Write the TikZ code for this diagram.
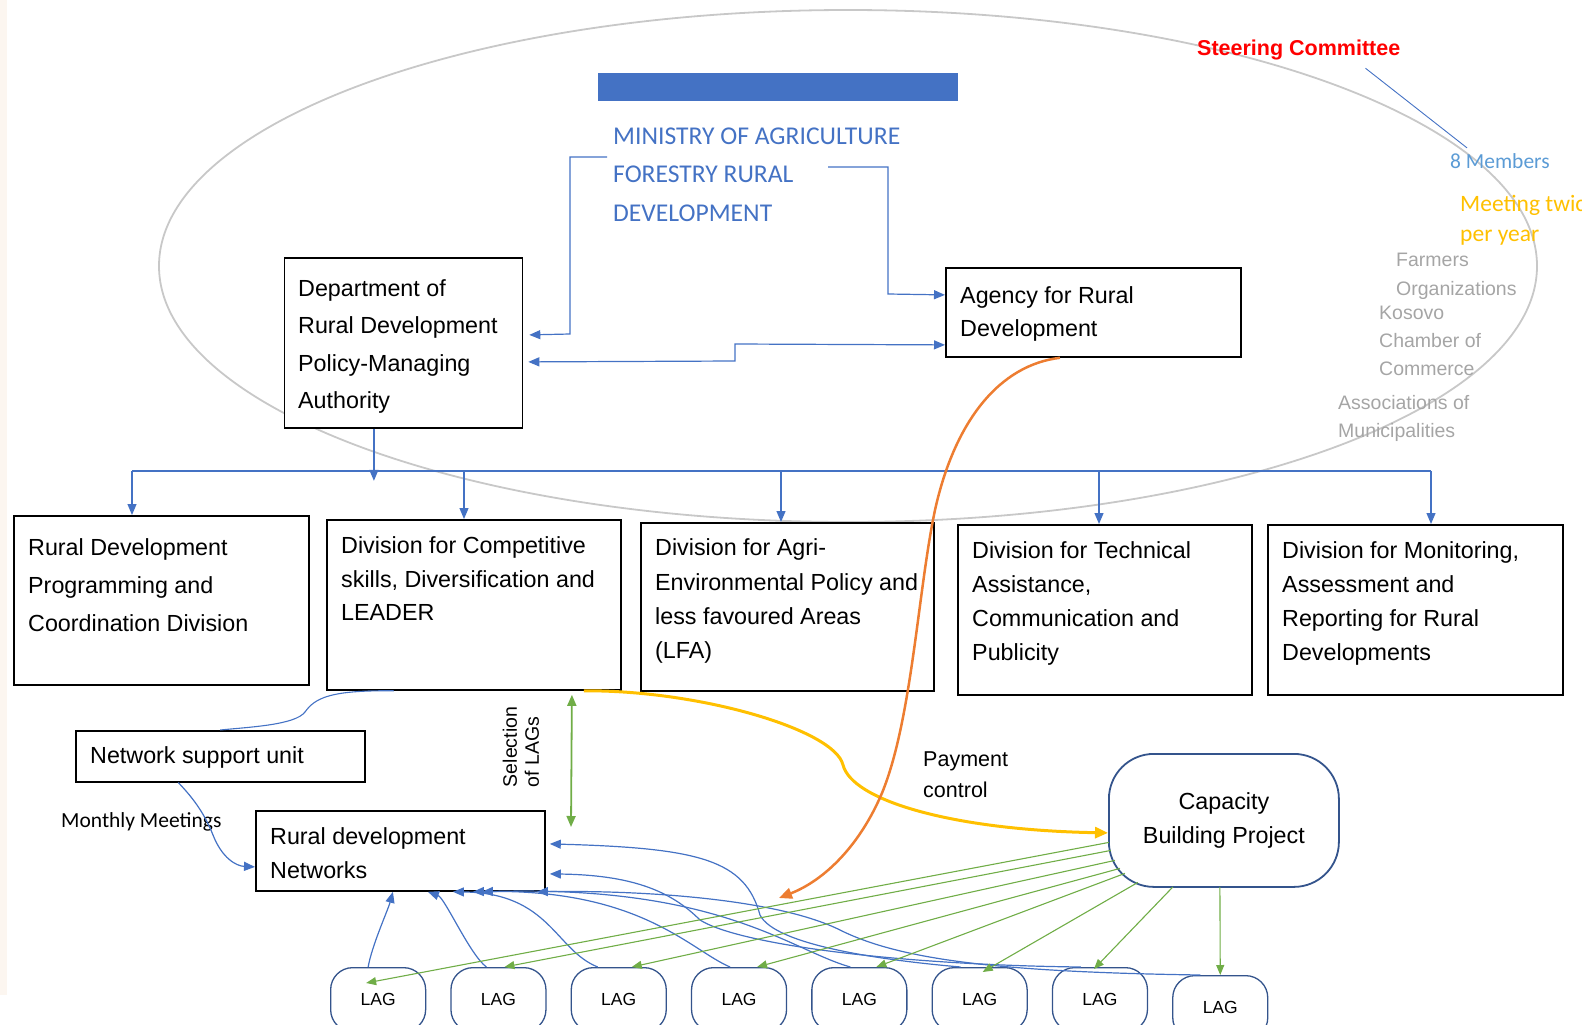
\documentclass[tikz,border=0pt]{standalone}
\usepackage{fontspec}
\setmainfont{Liberation Sans}
\newfontfamily\calib{Carlito}
\usetikzlibrary{arrows.meta}
\definecolor{cblue}{RGB}{68,114,196}
\definecolor{lblue}{RGB}{91,155,213}
\definecolor{cgreen}{RGB}{112,173,71}
\definecolor{corange}{RGB}{237,125,49}
\definecolor{cyellow}{RGB}{255,192,0}
\definecolor{cgrey}{RGB}{200,200,200}
\definecolor{tgrey}{RGB}{165,165,165}
\definecolor{dblue}{RGB}{52,84,140}
\definecolor{cream}{RGB}{252,246,240}
\definecolor{sred}{RGB}{255,0,0}
\tikzset{
  boxst/.style={draw=black, line width=1.8pt, fill=white, anchor=north west, inner sep=0pt},
  txt/.style={inner sep=0pt, anchor=north west, align=left, text=black, font=\fontsize{23.3}{#1}\selectfont},
  lagst/.style={draw=dblue, line width=1.3pt, rounded corners=22pt, minimum width=95pt, minimum height=64pt, fill=white, anchor=north west, inner sep=0pt, font=\fontsize{17.5}{20}\selectfont},
  bline/.style={draw=cblue, line width=1.2pt},
  barr/.style={draw=cblue, line width=1.2pt, -{Triangle[length=11pt,width=9pt]}},
  garr/.style={draw=cgreen, line width=1.1pt, -{Triangle[length=10pt,width=8pt]}},
  greytxt/.style={inner sep=0pt, anchor=north west, align=left, text=tgrey, font=\fontsize{19.5}{#1}\selectfont}
}
\begin{document}
\begin{tikzpicture}[x=1pt,y=-1pt]
\useasboundingbox (0,0) rectangle (1582,1025);
\clip (0,0) rectangle (1582,1025);
\fill[cream] (0,0) rectangle (7,995);

% steering committee ellipse
\draw[cgrey, line width=1.8pt] (848,266) ellipse [x radius=689, y radius=256];

% ministry
\node[fill=cblue, minimum width=360pt, minimum height=28pt, anchor=north west, inner sep=0pt] (bar) at (598,73) {};
\node[inner sep=0pt, anchor=north west, align=left, text=cblue, font=\calib\fontsize{25.6}{38.5}\selectfont] (min) at (613,127.5) {MINISTRY OF AGRICULTURE\\FORESTRY RURAL\\DEVELOPMENT};

% steering committee texts
\node[inner sep=0pt, anchor=base west, text=sred, font=\bfseries\fontsize{21.5}{24}\selectfont] (sc) at (1197,56) {Steering Committee};
\node[inner sep=0pt, anchor=base west, text=lblue, font=\calib\fontsize{21.5}{24}\selectfont] (mem) at (1450,168) {8 Members};
\node[inner sep=0pt, anchor=north west, align=left, text=cyellow, font=\calib\fontsize{23.5}{30}\selectfont] (meet) at (1460,195) {Meeting twice\\per year};
\node[greytxt=29] (farm) at (1396,253) {Farmers\\Organizations};
\node[greytxt=28] (kos) at (1379,306) {Kosovo\\Chamber of\\Commerce};
\node[greytxt=28] (assoc) at (1338,395) {Associations of\\Municipalities};
\draw[draw=cblue, line width=0.9pt] ([xshift=-35pt,yshift=-7.5pt]sc.south east) -- ([xshift=17pt,yshift=5pt]mem.north west);

% department and agency
\node[boxst, minimum width=238pt, minimum height=170pt] (dept) at (283.5,257) {};
\node[txt=37.5] (deptT) at (298,279.3) {Department of\\Rural Development\\Policy-Managing\\Authority};
\node[boxst, minimum width=295pt, minimum height=89pt] (agency) at (945,267) {};
\node[txt=33] (agencyT) at (960,286.3) {Agency for Rural\\Development};

% ministry connectors
\draw[barr] ([shift={(-6,-17.6)}]min.west) -- (570,157) -- (570,334) -- ([xshift=6pt,yshift=8pt]dept.east);
\draw[barr] ([shift={(215,-7.6)}]min.west) -- (888,167) -- (888,294) -- ([yshift=17.5pt]agency.west);
\draw[draw=cblue, line width=1.2pt, {Triangle[length=11pt,width=9pt]}-{Triangle[length=11pt,width=9pt]}] ([xshift=5pt,yshift=-19pt]dept.east) -- (735,361) -- (735,344) -- ([yshift=-32.5pt]agency.west);

% division boxes
\node[boxst, minimum width=295pt, minimum height=169pt] (boxA) at (13,515) {};
\node[txt=38] (boxAT) at (28,538.8) {Rural Development\\Programming and\\Coordination Division};
\node[boxst, minimum width=294pt, minimum height=170pt] (boxB) at (326,519) {};
\node[txt=33.5] (boxBT) at (341,536.8) {Division for Competitive\\skills, Diversification and\\LEADER};
\node[boxst, minimum width=293pt, minimum height=168pt] (boxC) at (640,522) {};
\node[txt=34.3] (boxCT) at (655,538.8) {Division for Agri-\\Environmental Policy and\\less favoured Areas\\(LFA)};
\node[boxst, minimum width=294pt, minimum height=170pt] (boxD) at (957,524) {};
\node[txt=34] (boxDT) at (972,541.8) {Division for Technical\\Assistance,\\Communication and\\Publicity};
\node[boxst, minimum width=295pt, minimum height=170pt] (boxE) at (1267,524) {};
\node[txt=34] (boxET) at (1282,541.8) {Division for Monitoring,\\Assessment and\\Reporting for Rural\\Developments};

% distribution bus
\coordinate (d1) at (132,471);
\coordinate (d2) at (464,471);
\coordinate (d3) at (781,471);
\coordinate (d4) at (1099,471);
\coordinate (d5) at (1431,471);
\draw[bline] (d1) -- (d5);
\draw[barr] (d1) -- (d1 |- boxA.north);
\draw[barr] (d2) -- (d2 |- boxB.north);
\draw[barr] (d3) -- (d3 |- boxC.north);
\draw[barr] (d4) -- (d4 |- boxD.north);
\draw[barr] (d5) -- (d5 |- boxE.north);
\draw[barr] ([xshift=-29.5pt]dept.south) -- ++(0,52);

% lower part boxes
\node[draw=black, line width=1.5pt, fill=white, anchor=north west, inner sep=0pt, minimum width=289pt, minimum height=51pt] (nsu) at (75,730) {};
\node[txt=30] (nsuT) at (90,746.8) {Network support unit};
\node[boxst, minimum width=289pt, minimum height=80pt] (rdn) at (255,810) {};
\node[txt=34] (rdnT) at (270,827.8) {Rural development\\Networks};
\node[draw=dblue, line width=1.8pt, fill=white, rounded corners=45pt, anchor=north west, inner sep=0pt, minimum width=230pt, minimum height=133pt, align=center, font=\fontsize{23.3}{34}\selectfont] (cap) at (1108,753) {Capacity\\Building Project};

\node[inner sep=0pt, anchor=base west, font=\calib\fontsize{21.5}{24}\selectfont] (mm) at (61,827) {Monthly Meetings};
\node[inner sep=0pt, anchor=north west, align=left, font=\fontsize{21.5}{31}\selectfont] (pay) at (923,751.6) {Payment\\control};
\node[rotate=90, inner sep=0pt, align=left, font=\fontsize{19.5}{22}\selectfont] (sel) at (521,747) {Selection\\of LAGs};

% LAGs
\node[lagst] (lag1) at (330,967) {LAG};
\node[lagst] (lag2) at (450.3,967) {LAG};
\node[lagst] (lag3) at (570.6,967) {LAG};
\node[lagst] (lag4) at (690.9,967) {LAG};
\node[lagst] (lag5) at (811.2,967) {LAG};
\node[lagst] (lag6) at (931.5,967) {LAG};
\node[lagst] (lag7) at (1051.8,967) {LAG};
\node[lagst] (lag8) at (1172.1,975) {LAG};

% network connectors
\draw[draw=cblue, line width=1.1pt] ([xshift=-80pt]boxB.south) .. controls (330,690) and (315,698) .. (305,712) .. controls (295,725) and (250,727) .. (nsu.north);
\draw[barr] ([xshift=-42pt]nsu.south) .. controls (195,800) and (205,815) .. (213,835) .. controls (222,858) and (236,866) .. ([yshift=-16pt]rdn.west);

% selection of LAGs
\coordinate (selend) at (571,827);
\draw[draw=cgreen, line width=1.8pt, {Triangle[length=11pt,width=9pt]}-{Triangle[length=11pt,width=9pt]}] ([xshift=98pt,yshift=-4pt]boxB.south) -- (selend);

% LAG -> networks
\draw[barr] ([xshift=-10pt]lag1.north) .. controls (372,945) and (388,910) .. ([xshift=-7.5pt]rdn.south);
\draw[barr] ([xshift=-12pt]lag2.north) .. controls (470,955) and (445,898) .. ([xshift=27.5pt]rdn.south);
\draw[barr] ([xshift=-21pt]lag3.north) .. controls (555,950) and (550,893) .. ([xshift=52.5pt]rdn.south);
\draw[barr] ([xshift=-9pt]lag4.north) .. controls (690,950) and (640,888) .. ([xshift=72.5pt]rdn.south);
\draw[barr] ([xshift=-9pt]lag5.north) .. controls (790,950) and (720,885) .. ([xshift=81.5pt]rdn.south);
\draw[barr] ([xshift=-19pt]lag6.north) .. controls (880,960) and (775,945) .. (760,915) .. controls (745,860) and (700,848) .. ([xshift=4pt,yshift=7pt]rdn.east);
\draw[barr] ([xshift=-19pt]lag7.north) .. controls (900,965) and (740,945) .. (700,920) .. controls (670,890) and (630,875) .. ([xshift=4pt,yshift=-23pt]rdn.east);
\draw[barr] ([xshift=-20pt]lag8.north) .. controls (1000,972) and (900,960) .. (840,930) .. controls (780,900) and (650,890) .. ([xshift=136.5pt]rdn.south);

% capacity -> LAGs
\draw[garr] ([shift={(-115,22)}]cap.center) -- ([shift={(-12,16)}]lag1.north);
\draw[garr] ([shift={(-113,30)}]cap.center) -- ([xshift=6pt]lag2.north);
\draw[garr] ([shift={(-109,40)}]cap.center) -- ([xshift=13pt]lag3.north);
\draw[garr] ([shift={(-104,48)}]cap.center) -- ([xshift=18pt]lag4.north);
\draw[garr] ([shift={(-99,53)}]cap.center) -- ([xshift=17pt]lag5.north);
\draw[garr] ([shift={(-86,62)}]cap.center) -- ([shift={(3,5)}]lag6.north);
\draw[garr] ([shift={(-51,66.5)}]cap.center) -- ([shift={(-6,2)}]lag7.north);
\draw[garr] ([shift={(-4,66.5)}]cap.center) -- (lag8.north);

% yellow: LEADER -> capacity
\draw[draw=cyellow, line width=3pt, -{Triangle[length=13pt,width=11pt]}] ([xshift=110pt]boxB.south) .. controls (700,690) and (835,730) .. (843,765) .. controls (852,800) and (950,830) .. ([yshift=-12.5pt]cap.west);

% orange: agency payment control
\coordinate (payend) at (779,898);
\draw[draw=corange, line width=2.5pt, -{Triangle[length=13pt,width=11pt]}] ([xshift=-33.5pt]agency.south) .. controls (1000,365) and (955,420) .. (935,510) .. controls (918,590) and (912,720) .. (882,793) .. controls (860,845) and (825,880) .. (payend);
\end{tikzpicture}
\end{document}
